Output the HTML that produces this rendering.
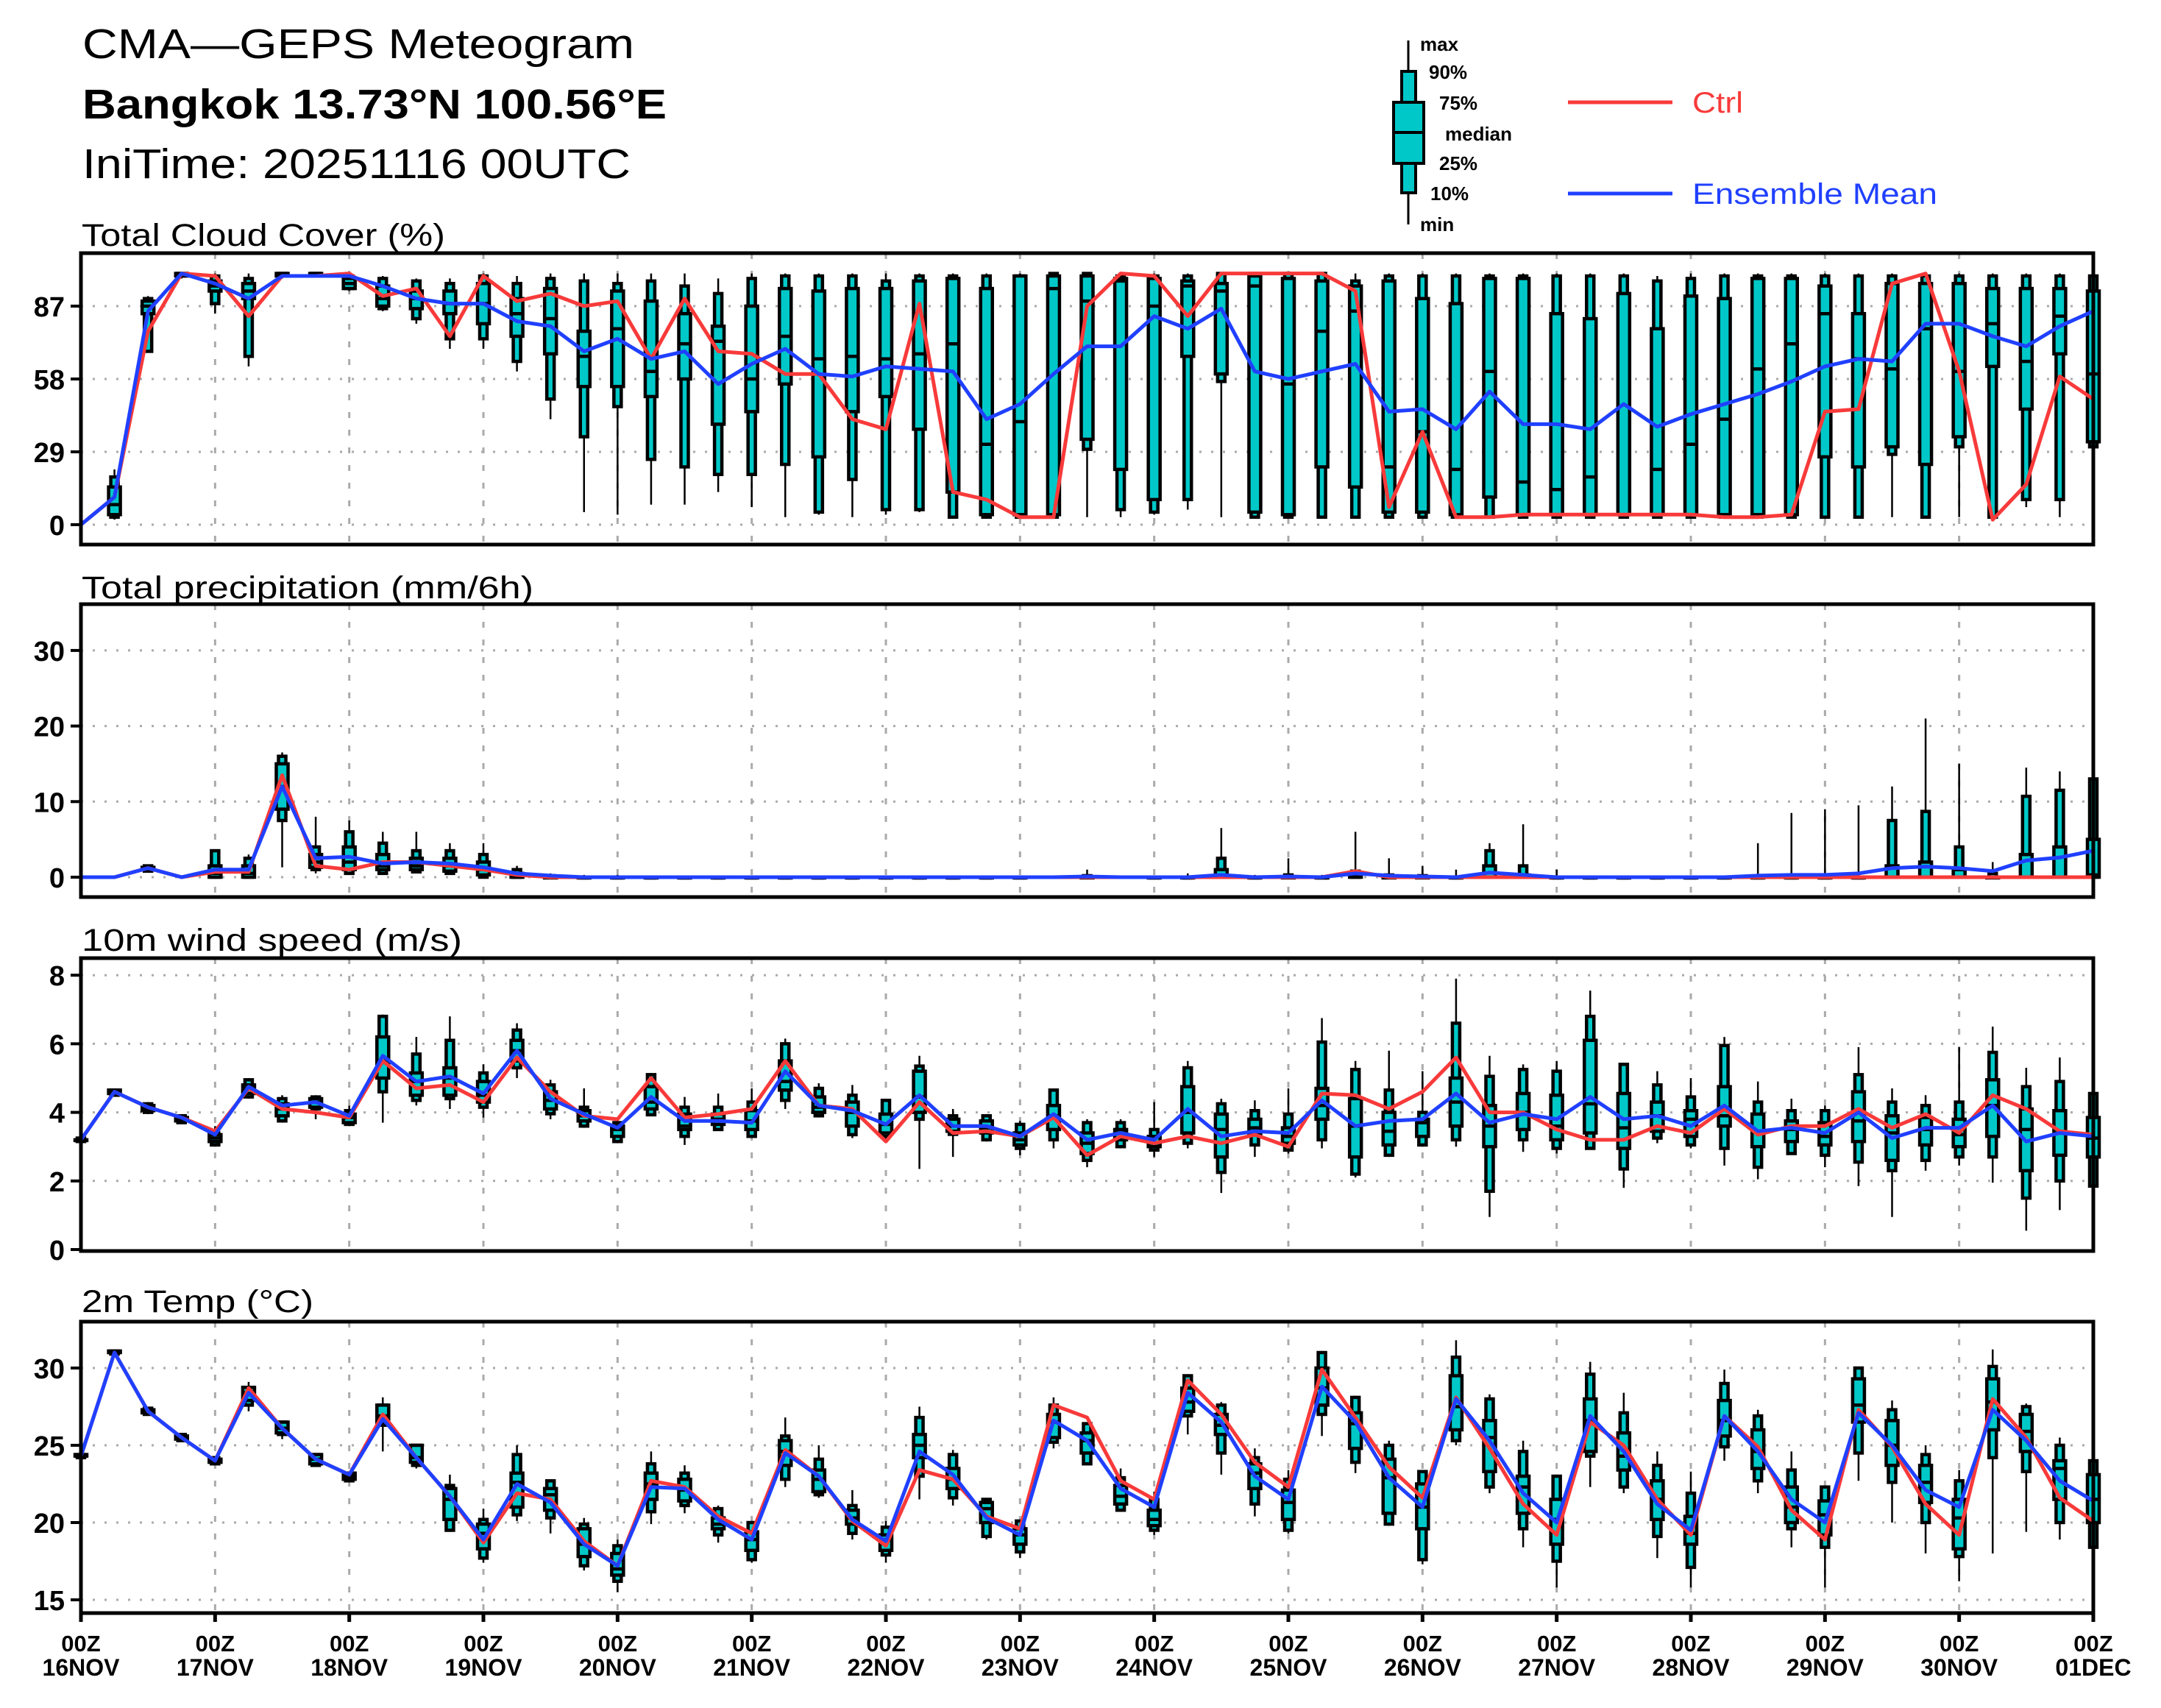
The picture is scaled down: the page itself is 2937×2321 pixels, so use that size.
<!DOCTYPE html>
<html><head><meta charset="utf-8"><title>CMA-GEPS Meteogram</title>
<style>html,body{margin:0;padding:0;background:#fff}svg{display:block}text{font-family:"Liberation Sans",Arial,sans-serif}</style>
</head><body>
<svg id="chart" xmlns="http://www.w3.org/2000/svg" width="2937" height="2321" viewBox="0 0 2937 2321">
<rect x="0" y="0" width="2937" height="2321" fill="#fff"/>
<text x="112" y="79" font-size="57" textLength="750" lengthAdjust="spacingAndGlyphs">CMA—GEPS Meteogram</text>
<text x="112" y="161" font-size="57" font-weight="bold" textLength="794" lengthAdjust="spacingAndGlyphs">Bangkok 13.73°N 100.56°E</text>
<text x="112" y="242" font-size="57" textLength="745" lengthAdjust="spacingAndGlyphs">IniTime: 20251116 00UTC</text>
<g>
<line x1="1914" y1="55" x2="1914" y2="305" stroke="#000" stroke-width="3"/>
<rect x="1905" y="97" width="19" height="165" fill="#00c8c8" stroke="#000" stroke-width="4"/>
<rect x="1894" y="139" width="41" height="83" fill="#00c8c8" stroke="#000" stroke-width="4"/>
<line x1="1894" y1="180" x2="1935" y2="180" stroke="#000" stroke-width="4"/>
<g font-size="26" font-weight="bold">
<text x="1930" y="69">max</text><text x="1942" y="107">90%</text><text x="1956" y="149">75%</text>
<text x="1964" y="191">median</text><text x="1956" y="231">25%</text><text x="1944" y="272">10%</text><text x="1930" y="314">min</text>
</g>
<line x1="2131" y1="139" x2="2273" y2="139" stroke="#f83a3a" stroke-width="5"/>
<text x="2300" y="153" font-size="40" fill="#f83a3a" textLength="69" lengthAdjust="spacingAndGlyphs">Ctrl</text>
<line x1="2131" y1="263" x2="2273" y2="263" stroke="#2040ff" stroke-width="5"/>
<text x="2300" y="277" font-size="40" fill="#2040ff" textLength="333" lengthAdjust="spacingAndGlyphs">Ensemble Mean</text>
</g>
</svg>
<script>
// ---- shared axis data ----
const dayLabels = ["16NOV","17NOV","18NOV","19NOV","20NOV","21NOV","22NOV","23NOV","24NOV","25NOV","26NOV","27NOV","28NOV","29NOV","30NOV","01DEC"];
const hourLabel = "00Z";
// ---- Total cloud cover (%) ----
const ccTicks = [0,29,58,87];
const ccMin = [0,2,69,98,84,63,98,99,93,85,80,70,70,61,42,5,4,8,8,13,7,3,4,3,4,5,3,3,3,3,3,3,4,6,3,3,3,3,3,3,3,3,3,3,3,3,3,3,3,3,3,3,3,3,3,3,3,3,7,3,31];
const ccP10 = [0,3,69,99,88,67,99,99,94,86,82,74,74,65,50,35,47,26,23,20,20,24,5,18,6,6,3,3,3,3,30,6,5,10,57,3,3,3,3,3,3,3,3,3,3,3,3,3,3,3,3,3,3,3,28,3,31,3,10,10,31];
const ccP25 = [0,4,84,99,93,90,99,100,94,87,86,84,80,75,68,55,55,51,58,40,45,56,27,45,51,38,13,4,4,4,34,22,10,67,60,5,4,23,15,5,5,4,11,4,4,4,4,4,4,4,4,4,27,23,31,24,35,63,46,68,33];
const ccMed = [0,8,87,100,95,93,100,100,96,90,90,88,88,84,82,67,78,61,72,73,58,75,66,67,66,68,72,32,41,94,89,97,87,95,93,95,56,77,85,23,37,22,61,17,14,19,4,22,32,42,62,72,84,66,62,78,61,80,65,83,60];
const ccP75 = [0,15,89,100,97,96,100,100,98,95,93,93,96,90,94,77,93,89,84,79,87,94,93,94,94,97,98,94,99,99,99,98,98,97,96,99,98,97,95,97,90,88,98,98,84,82,92,78,91,90,98,98,95,84,96,96,96,94,94,94,93];
const ccP90 = [0,19,90,100,99,98,100,100,99,98,97,96,99,96,98,97,96,97,95,92,98,99,99,99,97,99,99,99,99,100,100,99,99,99,100,100,100,100,97,99,99,99,99,99,99,99,99,97,98,99,99,99,99,99,99,99,99,99,99,99,99];
const ccMax = [0,22,91,100,100,100,100,100,100,99,98,98,100,99,100,100,100,100,100,98,100,100,100,100,100,100,100,100,100,100,100,100,100,100,100,100,100,100,100,100,100,100,100,100,100,100,100,99,100,100,100,100,100,100,100,100,100,100,100,100,100];
const ccCtrl = [0,11,77,100,99,83,99,99,100,91,94,75,99,89,92,87,89,66,90,69,68,60,60,42,38,88,13,10,3,3,87,100,99,83,100,100,100,100,93,7,37,3,3,4,4,4,4,4,4,3,3,4,45,46,96,100,61,2,16,59,50];
const ccMean = [0,11,85,100,96,90,99,99,99,95,90,88,88,81,79,69,74,66,69,56,64,70,60,59,63,62,61,42,48,60,71,71,83,78,86,61,58,61,64,45,46,38,53,40,40,38,48,39,44,48,52,57,63,66,65,80,80,75,71,79,85];
// ---- Total precipitation (mm/6h) ----
const prTicks = [0,10,20,30];
const prMin = [0,0,0.7,0,0,0,1.3,0.5,0.3,0.3,0.5,0.3,0,0,0,0,0,0,0,0,0,0,0,0,0,0,0,0,0,0,0,0,0,0,0,0,0,0,0,0,0,0,0,0,0,0,0,0,0,0,0,0,0,0,0,0,0,0,0,0,0];
const prP10 = [0,0,0.8,0,0,0,7.5,1,0.5,0.5,0.7,0.5,0,0,0,0,0,0,0,0,0,0,0,0,0,0,0,0,0,0,0,0,0,0,0,0,0,0,0,0,0,0,0,0,0,0,0,0,0,0,0,0,0,0,0,0,0,0,0,0,0];
const prP25 = [0,0,1,0,0,0,9,1.3,1,1,1,0.8,0.3,0,0,0,0,0,0,0,0,0,0,0,0,0,0,0,0,0,0,0,0,0,0,0,0,0,0,0,0,0,0,0,0,0,0,0,0,0,0,0,0,0,0,0,0,0,0,0,0];
const prMed = [0,0,1.1,0,0.5,0.5,12,2,2,1.5,1.5,1.5,1,0,0,0,0,0,0,0,0,0,0,0,0,0,0,0,0,0,0,0,0,0,0,0,0,0,0,0,0,0,0,0,0,0,0,0,0,0,0,0,0,0,0,0,0,0,0,0,0.3];
const prP75 = [0,0,1.3,0,1.5,1.5,15,3,4,3,2.5,2.5,2,0.5,0,0,0,0,0,0,0,0,0,0,0,0,0,0,0,0,0,0,0,0,1,0,0,0,0.3,0,0,0,1.5,0.3,0,0,0,0,0,0,0,0,0,0,1.5,2,1,0,3,4,5];
const prP90 = [0,0,1.5,0,3.5,2.5,16,4,6,4.5,3.5,3.5,3,1,0.2,0,0,0,0,0,0,0,0,0,0,0,0,0,0,0,0.2,0,0,0,2.5,0,0.3,0,0.8,0.3,0.2,0,3.5,1.5,0,0,0,0,0,0,0,0,0,0,7.5,8.7,4,0.5,10.7,11.5,13];
const prMax = [0,0,1.5,0,3.5,3,16.5,8,7.5,6,6,4.5,4.5,1.5,0.5,0.3,0.3,0.1,0.1,0.1,0.1,0.1,0.1,0.1,0.1,0.1,0.1,0.1,0.1,0,1,0,0.2,0.5,6.5,0.3,2.5,0.3,6,2.5,1.5,1,4.5,7,1,0.2,0.2,0.2,0.2,0.2,4.5,8.5,9,9.5,12,21,15,2,14.5,14,13];
const prCtrl = [0,0,1.2,0,0.7,0.7,13.5,1.5,1,2,2,1.5,1,0.3,0,0,0,0,0,0,0,0,0,0,0,0,0,0,0,0,0,0,0,0,0,0,0,0,0.8,0,0,0,0,0,0,0,0,0,0,0,0,0,0,0,0,0,0,0,0,0,0];
const prMean = [0,0,1.2,0,1,1,12,2.5,2.7,1.8,2,1.8,1.3,0.5,0.2,0,0,0,0,0,0,0,0,0,0,0,0,0,0,0,0.1,0,0,0,0.3,0,0.1,0,0.5,0.2,0.1,0,0.6,0.3,0,0,0,0,0,0,0.2,0.3,0.3,0.5,1.2,1.4,1.2,0.8,2.2,2.6,3.5];
// ---- 10m wind speed (m/s) ----
const wsTicks = [0,2,4,6,8];
const wsMin = [3.15,4.5,3.95,3.7,3.0,4.4,3.7,3.8,3.6,3.7,4.2,4.1,3.85,5.0,3.8,3.55,3.1,3.9,3.05,3.5,3.25,4.1,3.85,3.25,3.2,2.35,2.7,3.15,2.75,2.95,2.4,2.95,2.7,2.95,1.65,2.7,2.8,2.95,2.1,2.7,3.0,3.0,0.95,2.85,2.8,2.95,1.8,3.1,2.95,2.45,2.05,2.8,2.4,1.85,0.95,2.3,2.45,1.95,0.55,1.15,1.8];
const wsP10 = [3.15,4.5,4.0,3.7,3.05,4.45,3.75,4.1,3.65,4.6,4.35,4.4,4.15,5.3,3.96,3.6,3.15,3.93,3.3,3.5,3.3,4.35,3.9,3.35,3.3,3.8,3.36,3.2,2.95,3.2,2.6,3.0,2.9,3.1,2.25,3.05,2.9,3.2,2.2,2.75,3.05,3.2,1.7,3.2,2.95,2.95,2.35,3.25,3.05,2.95,2.4,2.8,2.75,2.55,2.3,2.6,2.7,2.7,1.5,2.0,1.85];
const wsP25 = [3.2,4.55,4.05,3.75,3.15,4.55,3.9,4.15,3.7,5.0,4.5,4.5,4.3,5.5,4.1,3.75,3.3,4.1,3.5,3.65,3.5,4.65,4.0,3.6,3.4,4.0,3.45,3.4,3.05,3.5,2.8,3.2,3.0,3.4,2.7,3.35,3.1,3.8,2.7,3.05,3.3,3.6,3.0,3.5,3.2,3.4,2.95,3.45,3.3,3.6,3.0,3.15,3.05,3.15,2.6,3.05,3.0,3.3,2.3,2.75,2.7];
const wsMed = [3.2,4.6,4.1,3.8,3.25,4.7,4.1,4.3,3.85,5.5,4.9,5.0,4.5,5.8,4.35,3.9,3.5,4.3,3.6,3.8,3.75,4.9,4.15,4.0,3.65,4.45,3.6,3.55,3.2,3.9,3.1,3.4,3.1,4.0,3.5,3.55,3.3,4.2,3.6,3.45,3.7,4.3,3.6,4.0,3.6,4.25,3.55,3.9,3.8,3.9,3.45,3.5,3.3,3.75,3.4,3.5,3.35,4.2,3.5,3.4,3.25];
const wsP75 = [3.2,4.65,4.2,3.85,3.35,4.8,4.25,4.4,3.95,6.2,5.15,5.3,4.9,6.1,4.6,4.05,3.6,4.75,3.95,3.95,4.05,5.5,4.45,4.3,3.95,5.2,3.8,3.75,3.4,4.2,3.4,3.5,3.3,4.75,3.95,3.8,3.55,4.7,4.4,4.0,3.8,5.0,4.2,4.55,4.5,6.1,4.55,4.3,4.05,4.75,3.95,3.75,3.7,4.6,3.9,3.85,3.8,4.95,4.1,4.05,3.85];
const wsP90 = [3.25,4.65,4.25,3.9,3.4,4.95,4.4,4.45,4.05,6.8,5.7,6.1,5.15,6.4,4.8,4.15,3.7,5.1,4.15,4.15,4.3,6.0,4.7,4.5,4.35,5.35,3.9,3.9,3.65,4.65,3.7,3.7,3.5,5.3,4.25,4.05,3.95,6.05,5.25,4.65,4.0,6.6,5.05,5.25,5.2,6.8,5.4,4.8,4.45,5.95,4.3,4.05,4.05,5.1,4.3,4.2,4.3,5.75,4.75,4.9,4.55];
const wsMax = [3.25,4.7,4.3,3.95,3.6,5.0,4.5,4.5,4.2,6.85,6.2,6.8,5.4,6.6,4.95,4.7,3.75,5.15,4.45,4.55,4.7,6.15,4.85,4.8,4.4,5.65,4.1,3.95,3.75,4.65,3.8,3.8,4.3,5.5,4.4,4.35,4.7,6.75,5.5,5.8,5.2,7.9,5.65,5.4,5.5,7.55,5.4,5.2,5.0,6.2,4.9,4.4,4.2,5.9,4.7,4.5,5.9,6.5,5.3,5.6,4.6];
const wsCtrl = [3.2,4.6,4.15,3.85,3.45,4.7,4.1,4.0,3.85,5.5,4.7,4.8,4.3,5.6,4.6,3.9,3.8,5.0,3.85,3.95,4.1,5.5,4.2,4.1,3.15,4.3,3.4,3.45,3.3,3.85,2.75,3.3,3.1,3.3,3.1,3.35,3.0,4.55,4.5,4.1,4.6,5.6,4.0,4.0,3.5,3.2,3.2,3.6,3.4,4.1,3.35,3.6,3.6,4.1,3.55,3.95,3.4,4.5,4.1,3.45,3.35];
const wsMean = [3.2,4.6,4.15,3.85,3.35,4.75,4.2,4.3,3.9,5.65,4.9,5.05,4.55,5.8,4.4,3.95,3.55,4.45,3.75,3.75,3.7,5.2,4.2,4.05,3.65,4.5,3.6,3.6,3.3,3.95,3.2,3.4,3.2,4.1,3.3,3.45,3.4,4.35,3.6,3.75,3.8,4.55,3.7,3.95,3.8,4.45,3.8,3.9,3.6,4.2,3.45,3.55,3.4,4.0,3.25,3.55,3.55,4.2,3.15,3.4,3.3];
// ---- 2m Temp (°C) ----
const tTicks = [15,20,25,30];
const tMin = [24.2,30.9,27.0,25.3,23.7,27.2,25.4,23.6,22.6,24.6,23.5,19.4,17.4,20.1,19.3,16.9,15.5,19.9,20.6,18.7,17.4,22.3,21.6,18.9,17.4,21.5,21.1,18.9,17.7,24.8,23.8,20.7,19.2,25.7,23.1,20.4,19.3,25.6,23.2,19.8,17.3,25.0,21.9,18.4,15.8,22.3,21.9,17.7,15.8,24.0,21.9,18.4,15.8,22.7,20.0,18.0,16.2,18.0,19.4,18.9,18.4];
const tP10 = [24.2,30.9,27.0,25.3,23.8,27.6,25.7,23.7,22.7,26.3,23.7,19.5,17.7,20.5,20.3,17.2,16.2,20.7,21.1,19.2,17.6,22.8,21.8,19.3,17.9,23.0,21.6,19.1,18.1,25.2,23.8,20.8,19.5,26.9,24.5,21.2,19.5,27.0,23.9,19.9,17.6,25.3,22.3,19.6,17.5,24.3,22.3,19.1,17.1,24.9,22.7,19.6,18.4,24.5,22.6,20.0,17.8,24.2,23.3,20.0,18.4];
const tP25 = [24.3,31.0,27.1,25.4,23.9,27.9,25.8,23.8,22.8,26.5,23.9,20.2,18.3,21.0,20.8,17.8,16.6,21.5,21.4,19.6,18.2,23.7,22.0,19.9,18.2,24.2,22.2,20.0,18.6,25.5,24.5,21.2,19.8,27.2,25.7,22.2,20.2,27.6,24.8,20.6,19.6,26.0,23.3,20.6,18.6,24.6,23.4,20.2,18.6,25.6,23.5,20.0,19.2,26.5,23.7,21.3,18.3,26.0,24.6,21.5,20.0];
const tMed = [24.3,31.0,27.2,25.5,24.0,28.4,26.1,24.1,23.0,26.9,24.2,21.5,19.3,22.6,21.8,18.6,17.0,22.5,22.1,19.9,18.9,24.6,22.8,20.3,18.9,25.0,22.8,20.9,19.2,26.5,25.3,21.7,20.2,27.8,26.3,23.2,21.3,28.7,26.4,22.9,21.0,27.5,25.5,22.3,20.2,26.6,24.3,21.5,19.3,26.6,24.6,21.0,20.5,27.6,25.0,22.6,20.3,27.8,25.9,23.5,21.5];
const tP75 = [24.4,31.1,27.3,25.6,24.1,28.75,26.5,24.4,23.2,27.6,25.0,22.2,19.9,23.2,22.2,19.6,18.0,23.2,22.8,20.3,19.4,25.3,23.4,20.8,19.2,25.7,23.5,21.3,19.6,27.0,25.8,22.4,20.8,28.7,27.0,23.8,22.1,30.0,27.1,24.1,22.5,29.5,26.6,23.0,21.5,28.0,25.8,22.7,20.4,27.9,26.0,22.3,21.4,29.3,26.6,23.7,21.5,29.3,27.0,24.0,23.1];
const tP90 = [24.4,31.1,27.4,25.7,24.2,28.75,26.5,24.4,23.2,27.6,25.0,22.4,20.2,24.4,22.7,19.9,18.5,23.8,23.2,20.9,20.0,25.6,24.1,21.1,19.7,26.8,24.4,21.5,20.1,27.6,26.4,22.9,21.5,29.5,27.6,24.2,22.8,31.0,28.1,25.0,23.3,30.7,28.0,24.6,23.0,29.6,27.1,23.7,21.9,29.0,26.9,23.4,22.3,30.0,27.3,24.4,22.7,30.1,27.5,25.0,24.0];
const tMax = [24.4,31.1,27.5,25.8,24.3,29.1,26.6,24.5,23.3,28.1,25.1,23.1,20.9,25.0,22.8,20.3,18.9,24.6,23.7,21.1,20.1,26.8,25.0,22.1,20.1,27.5,24.7,21.6,20.1,28.1,26.4,23.5,22.0,29.5,27.8,24.8,23.4,31.1,28.2,25.3,23.4,31.8,28.3,25.3,23.1,30.4,28.4,24.6,23.3,29.9,27.3,24.6,22.3,30.0,27.9,25.0,23.4,31.2,27.7,25.5,24.0];
const tCtrl = [24.3,31.0,27.2,25.5,24.0,28.7,26.1,24.1,23.1,27.0,24.2,21.7,18.7,21.9,21.5,18.8,17.2,22.7,22.3,20.4,19.3,24.7,23.0,20.1,18.5,23.4,22.8,20.4,19.6,27.6,26.8,22.7,21.5,29.2,27.0,23.9,22.3,29.9,26.8,23.6,21.6,28.1,24.8,21.2,19.2,26.5,25.0,21.5,19.2,26.9,24.9,20.8,18.9,27.3,24.9,21.2,19.2,28.0,25.5,21.6,20.1];
const tMean = [24.3,31.0,27.2,25.5,24.0,28.4,26.1,24.1,23.1,26.7,24.2,21.7,18.9,22.5,21.3,18.6,17.2,22.3,22.2,20.2,18.9,24.5,23.0,20.2,18.8,24.6,23.1,20.3,19.2,26.6,25.3,22.2,21.0,28.4,26.5,23.0,21.5,28.8,26.5,22.9,21.0,28.0,25.3,21.9,20.0,26.9,24.6,21.2,19.5,26.9,24.6,21.5,20.0,27.1,25.0,22.1,21.0,27.3,25.3,22.7,21.4];

const NS = "http://www.w3.org/2000/svg";
const svg = document.getElementById("chart");
const X0 = 110, X1 = 2845, NSTEP = 60;
function xPos(i){ return X0 + i*(X1-X0)/NSTEP; }
function mk(tag, attrs, parent){
  const e = document.createElementNS(NS, tag);
  for (const k in attrs) e.setAttribute(k, attrs[k]);
  (parent||svg).appendChild(e);
  return e;
}
function drawPanel(p){
  const g = mk("g", {});
  
  
  const yPos = v => p.y0 - (v - p.v0) * p.k;
  // title
  const t = mk("text", {x: 111, y: p.titleY, "font-size": 43, textLength: p.titleLen, lengthAdjust: "spacingAndGlyphs"}, g);
  t.textContent = p.title;
  
  
  // vertical day gridlines
  for (let d = 1; d < dayLabels.length - 1; d++) {
    const x = xPos(d*4);
    const vl = mk("line", {x1: x, x2: x, y1: p.top, y2: p.bottom, stroke: "#aaa", "stroke-width": 3, "stroke-dasharray": "8 16"}, g);
    
    
  }
  // horizontal gridlines + tick labels
  p.ticks.forEach(v => {
    const y = yPos(v);
    if (y < p.bottom - 3) {
      const hl = mk("line", {x1: X0, x2: X1, y1: y, y2: y, stroke: "#aaa", "stroke-width": 3, "stroke-dasharray": "3 13"}, g);
      
      
    }
    const tk = mk("line", {x1: 96, x2: X0, y1: y, y2: y, stroke: "#000", "stroke-width": 4}, g);
    
    
    const lb = mk("text", {x: 88, y: y + 14, "font-size": 38, "font-weight": "bold", "text-anchor": "end"}, g);
    lb.textContent = String(v);
    
    
  });
  // boxes
  for (let i = 0; i <= NSTEP; i++) {
    const x = xPos(i);
    const bg = mk("g", {}, g);
    
    
    if (p.mx[i] - p.mn[i] < 0.001 && p.mx[i] === 0) continue;
    mk("line", {x1: x, x2: x, y1: yPos(p.mn[i]), y2: yPos(p.mx[i]), stroke: "#000", "stroke-width": 2.5}, bg);
    const a = yPos(p.p90[i]), b = yPos(p.p10[i]);
    mk("rect", {x: x-5, y: a, width: 10, height: Math.max(b-a, 1), fill: "#00c8c8", stroke: "#000", "stroke-width": 4.5}, bg);
    const c = yPos(p.p75[i]), d = yPos(p.p25[i]);
    mk("rect", {x: x-8, y: c, width: 16, height: Math.max(d-c, 1), fill: "#00c8c8", stroke: "#000", "stroke-width": 4.5}, bg);
    const m = yPos(p.med[i]);
    mk("line", {x1: x-8, x2: x+8, y1: m, y2: m, stroke: "#000", "stroke-width": 4.5}, bg);
  }
  // ctrl + mean lines
  const pts = arr => arr.map((v, i) => xPos(i).toFixed(1) + "," + yPos(v).toFixed(1)).join(" ");
  const cl = mk("polyline", {points: pts(p.ctrl), fill: "none", stroke: "#f83a3a", "stroke-width": 5, "stroke-linejoin": "round"}, g);
  
  
  const ml = mk("polyline", {points: pts(p.mean), fill: "none", stroke: "#2040ff", "stroke-width": 5, "stroke-linejoin": "round"}, g);
  
  
  // frame
  const fr = mk("rect", {x: X0, y: p.top, width: X1-X0, height: p.bottom-p.top, fill: "none", stroke: "#000", "stroke-width": 5}, g);
  
  
}
drawPanel({name: "cloud-cover", title: "Total Cloud Cover (%)", titleY: 334, titleLen: 494, top: 344, bottom: 740, y0: 713, v0: 0, k: 3.414, ticks: ccTicks,
  mn: ccMin, p10: ccP10, p25: ccP25, med: ccMed, p75: ccP75, p90: ccP90, mx: ccMax, ctrl: ccCtrl, mean: ccMean});
drawPanel({name: "precipitation", title: "Total precipitation (mm/6h)", titleY: 813, titleLen: 614, top: 821, bottom: 1219, y0: 1192, v0: 0, k: 10.27, ticks: prTicks,
  mn: prMin, p10: prP10, p25: prP25, med: prMed, p75: prP75, p90: prP90, mx: prMax, ctrl: prCtrl, mean: prMean});
drawPanel({name: "wind-speed", title: "10m wind speed (m/s)", titleY: 1292, titleLen: 517, top: 1302, bottom: 1700, y0: 1698, v0: 0, k: 46.6, ticks: wsTicks,
  mn: wsMin, p10: wsP10, p25: wsP25, med: wsMed, p75: wsP75, p90: wsP90, mx: wsMax, ctrl: wsCtrl, mean: wsMean});
drawPanel({name: "temperature", title: "2m Temp (°C)", titleY: 1783, titleLen: 315, top: 1796, bottom: 2192, y0: 2174, v0: 15, k: 21.0, ticks: tTicks,
  mn: tMin, p10: tP10, p25: tP25, med: tMed, p75: tP75, p90: tP90, mx: tMax, ctrl: tCtrl, mean: tMean});
// x axis labels
dayLabels.forEach((lab, d) => {
  const x = xPos(d*4);
  const tk = mk("line", {x1: x, x2: x, y1: 2192, y2: 2204, stroke: "#000", "stroke-width": 5});
  
  
  const t1 = mk("text", {x: x, y: 2244, "font-size": 31, "font-weight": "bold", "text-anchor": "middle"});
  t1.textContent = hourLabel;
  
  
  const t2 = mk("text", {x: x, y: 2277, "font-size": 32, "font-weight": "bold", "text-anchor": "middle"});
  t2.textContent = lab;
  
  
});
</script>
</body></html>
